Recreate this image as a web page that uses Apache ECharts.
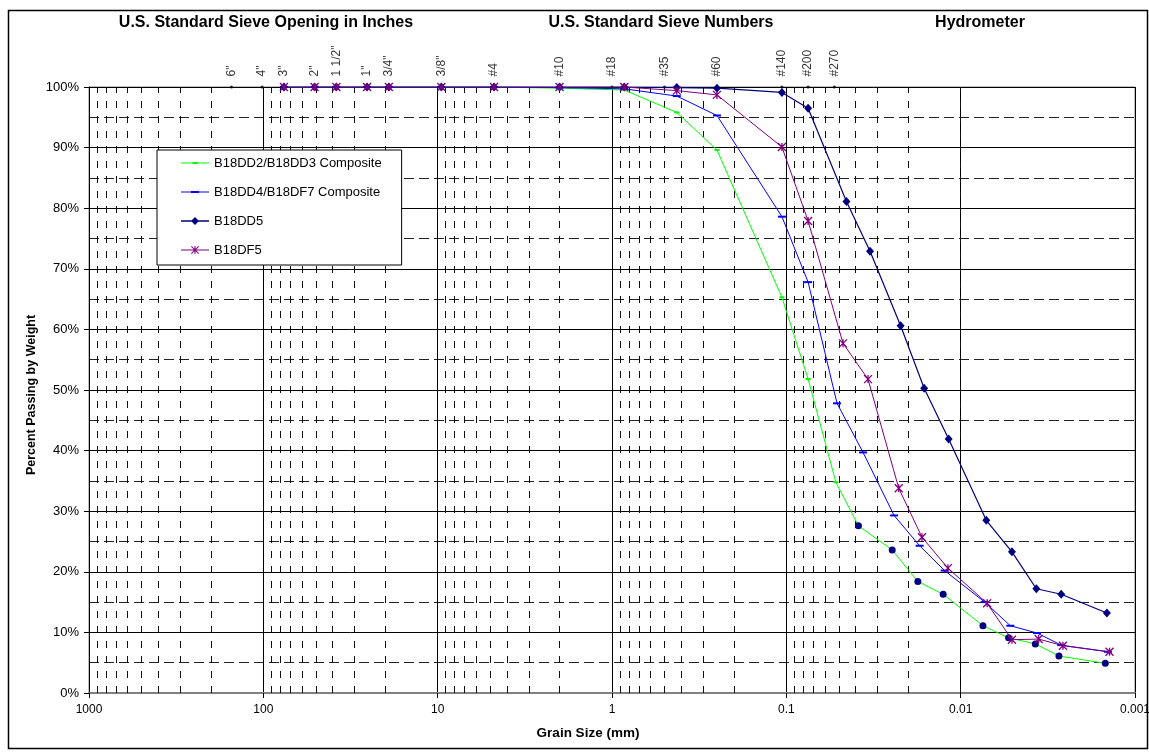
<!DOCTYPE html>
<html>
<head>
<meta charset="utf-8">
<script src="https://cdn.jsdelivr.net/npm/echarts@6/dist/echarts.min.js"></script>
<style>
html,body{margin:0;padding:0;background:#fff;}
#chart{width:1149px;height:754px;}
</style>
</head>
<body>
<div id="chart"></div>
<script>
// ---------------- DATA ----------------
const sieveLabels = ['6"', '4"', '3"', '2"', '1 1/2"', '1"', '3/4"', '3/8"', '#4', '#10', '#18', '#35', '#60', '#140', '#200', '#270'];
const sieveLabelSizes = [152.4, 101.6, 76.2, 50.8, 38.1, 25.4, 19.05, 9.525, 4.75, 2.0, 1.0, 0.5, 0.25, 0.106, 0.075, 0.053];

const sieveSizes = [76.2, 50.8, 38.1, 25.4, 19.05, 9.525, 4.75, 2.0, 0.85, 0.425, 0.25, 0.106, 0.075];

// B18DD2/B18DD3 Composite
const dd23Sieve = [100, 100, 100, 100, 100, 100, 100, 99.8, 99.5, 95.8, 89.6, 65.3, 51.8];
const dd23FineSizes = [0.052];
const dd23FineVals = [34.8];
const dd23HydroSizes = [0.0386, 0.0247, 0.0176, 0.0126, 0.00745, 0.00531, 0.00373, 0.00273, 0.00148];
const dd23HydroVals = [27.6, 23.6, 18.4, 16.3, 11.1, 9.1, 8.1, 6.1, 4.9];

// B18DD4/B18DF7 Composite
const dd4Sieve = [100, 100, 100, 100, 100, 100, 100, 99.9, 99.7, 98.5, 95.3, 78.6, 67.8];
const dd4HydroSizes = [0.0512, 0.0363, 0.0241, 0.0172, 0.01236, 0.00728, 0.00519, 0.00365, 0.00265, 0.00143];
const dd4HydroVals = [47.8, 39.7, 29.3, 24.3, 20.2, 15.0, 11.1, 9.9, 7.9, 6.8];

// B18DD5
const dd5Sieve = [100, 100, 100, 100, 100, 100, 100, 100, 100, 99.9, 99.8, 99.1, 96.5];
const dd5HydroSizes = [0.0452, 0.0331, 0.0221, 0.0162, 0.01172, 0.00713, 0.00508, 0.00368, 0.00265, 0.00145];
const dd5HydroVals = [81.1, 72.9, 60.6, 50.3, 41.9, 28.5, 23.3, 17.2, 16.3, 13.2];

// B18DF5
const df5Sieve = [100, 100, 100, 100, 100, 100, 100, 100, 100, 99.4, 98.7, 90.1, 77.9];
const df5HydroSizes = [0.0473, 0.034, 0.02266, 0.01667, 0.01183, 0.00705, 0.00508, 0.00357, 0.00259, 0.0014];
const df5HydroVals = [57.7, 51.8, 33.8, 25.7, 20.6, 14.8, 8.8, 8.9, 7.8, 6.8];

const seriesNames = ['B18DD2/B18DD3 Composite', 'B18DD4/B18DF7 Composite', 'B18DD5', 'B18DF5'];
const headerTitles = ['U.S. Standard Sieve Opening in Inches', 'U.S. Standard Sieve Numbers', 'Hydrometer'];
const xTitle = 'Grain Size (mm)';
const yTitle = 'Percent Passing by Weight';

// ---------------- BUILD ----------------
const FONT = 'Arial, "Liberation Sans", Helvetica, sans-serif';
function pairs(xs, ys) { return xs.map((x, i) => [x, ys[i]]); }

const minorLines = [];
for (let e = -3; e <= 2; e++) {
  for (let m = 2; m <= 9; m++) {
    minorLines.push({ xAxis: m * Math.pow(10, e) });
  }
}

// legend icons: line + marker, drawn in a 28x14 box
const BOX = 'M0,0M28,14';
const LINE = 'M0,6.5L28,6.5L28,7.5L0,7.5Z';
const legendIcons = [
  'path://' + BOX + LINE + 'M11.5,6L16.5,6L16.5,8L11.5,8Z',
  'path://' + BOX + LINE + 'M10,6L18,6L18,8L10,8Z',
  'path://' + BOX + 'M0,6.2L28,6.2L28,7.8L0,7.8Z' + 'M14,3L18,7L14,11L10,7Z',
  'path://' + BOX + LINE + 'M13.5,3L14.5,3L14.5,11L13.5,11Z' +
    'M10,3.7L10.7,3L18,10.3L17.3,11Z' + 'M17.3,3L18,3.7L10.7,11L10,10.3Z'
];

const greenData = pairs(sieveSizes, dd23Sieve)
  .concat(pairs(dd23FineSizes, dd23FineVals))
  .concat(pairs(dd23HydroSizes, dd23HydroVals).map(p => ({
    value: p, symbol: 'circle', symbolSize: 7,
    itemStyle: { color: '#000080', borderColor: '#000080', borderWidth: 0 }
  })));
const blueData = pairs(sieveSizes, dd4Sieve).concat(pairs(dd4HydroSizes, dd4HydroVals));
const navyData = pairs(sieveSizes, dd5Sieve).concat(pairs(dd5HydroSizes, dd5HydroVals));
const purpleData = pairs(sieveSizes, df5Sieve).concat(pairs(df5HydroSizes, df5HydroVals));

const chart = echarts.init(document.getElementById('chart'), null, { renderer: 'canvas' });

const option = {
  animation: false,
  backgroundColor: '#fff',
  textStyle: { fontFamily: FONT },
  grid: { left: 89, right: 14, top: 87, bottom: 61, show: true, borderColor: '#808080', borderWidth: 1, backgroundColor: 'transparent', outerBoundsMode: 'none', containLabel: false },
  legend: {
    orient: 'vertical',
    left: 157, top: 150, z: 20,
    padding: [6, 20, 8, 24],
    itemWidth: 28, itemHeight: 14, itemGap: 15,
    backgroundColor: '#fff',
    borderColor: '#000', borderWidth: 1,
    symbolKeepAspect: true,
    itemStyle: { borderWidth: 0 },
    textStyle: { fontFamily: FONT, fontSize: 13, color: '#000' },
    data: seriesNames.map((n, i) => ({ name: n, icon: legendIcons[i] }))
  },
  xAxis: {
    type: 'log', logBase: 10, min: 0.001, max: 1000, inverse: true, splitNumber: 6,
    axisLine: { show: true, lineStyle: { color: '#808080', width: 2 } },
    axisTick: { show: true, length: 5, lineStyle: { color: '#000' } },
    axisLabel: {
      fontSize: 12, color: '#000', margin: 11, fontFamily: FONT,
      formatter: function (v) {
        const e = Math.round(Math.log10(v));
        return e >= 0 ? String(Math.pow(10, e)) : Math.pow(10, e).toFixed(-e);
      }
    },
    splitLine: { show: true, lineStyle: { color: '#000', width: 1 } },
    minorTick: { show: false },
    minorSplitLine: { show: false }
  },
  yAxis: {
    type: 'value', min: 0, max: 100, interval: 10,
    axisLine: { show: true, lineStyle: { color: '#000', width: 1 } },
    axisTick: { show: true, length: 5, lineStyle: { color: '#000' } },
    axisLabel: { formatter: '{value}%', fontSize: 13, color: '#000', margin: 10, fontFamily: FONT },
    splitLine: { show: true, lineStyle: { color: '#000', width: 1 } },
    minorTick: { show: false, splitNumber: 2 },
    minorSplitLine: { show: true, lineStyle: { color: '#222', width: 1, type: [10, 5] } }
  },
  graphic: [
    { type: 'rect', silent: true, z: -10, shape: { x: 8.5, y: 10.5, width: 1139, height: 738 }, style: { fill: 'none', stroke: '#000', lineWidth: 1.5 } },
    { type: 'text', silent: true, style: { x: 266, y: 23, text: headerTitles[0], font: 'bold 16px ' + FONT, fill: '#000', textAlign: 'center', textVerticalAlign: 'middle' } },
    { type: 'text', silent: true, style: { x: 661, y: 23, text: headerTitles[1], font: 'bold 16px ' + FONT, fill: '#000', textAlign: 'center', textVerticalAlign: 'middle' } },
    { type: 'text', silent: true, style: { x: 980, y: 23, text: headerTitles[2], font: 'bold 16px ' + FONT, fill: '#000', textAlign: 'center', textVerticalAlign: 'middle' } },
    { type: 'text', silent: true, style: { x: 588, y: 733, text: xTitle, font: 'bold 13.5px ' + FONT, fill: '#000', textAlign: 'center', textVerticalAlign: 'middle' } },
    { type: 'text', silent: true, x: 32, y: 395, rotation: Math.PI / 2, style: { x: 0, y: 0, text: yTitle, font: 'bold 12.5px ' + FONT, fill: '#000', textAlign: 'center', textVerticalAlign: 'middle' } }
  ],
  series: [
    {
      name: 'sieves', type: 'scatter', z: 1,
      symbol: 'circle', symbolSize: 3,
      itemStyle: { color: '#000' },
      data: pairs(sieveLabelSizes, sieveLabelSizes.map(() => 100)).map((p, i) => ({ value: p, name: sieveLabels[i] })),
      label: {
        show: true, position: 'top', distance: 9, rotate: 90,
        align: 'left', verticalAlign: 'middle',
        formatter: function (p) { return p.name; },
        fontSize: 12, color: '#000', fontFamily: FONT
      },
      emphasis: { disabled: true },
      silent: true,
      markLine: {
        silent: true, symbol: ['none', 'none'], animation: false, z: 1,
        label: { show: false },
        emphasis: { disabled: true },
        lineStyle: { color: '#111', width: 1, type: [7, 8] },
        data: minorLines
      }
    },
    {
      name: seriesNames[0], type: 'line', z: 3,
      data: greenData,
      symbol: 'rect', symbolSize: [5, 2],
      itemStyle: { color: '#00FF00' },
      lineStyle: { color: '#00FF00', width: 1 }
    },
    {
      name: seriesNames[1], type: 'line', z: 4,
      data: blueData,
      symbol: 'rect', symbolSize: [8, 2],
      itemStyle: { color: '#0000FF' },
      lineStyle: { color: '#0000FF', width: 1 }
    },
    {
      name: seriesNames[2], type: 'line', z: 5,
      data: navyData,
      symbol: 'diamond', symbolSize: [8, 9],
      itemStyle: { color: '#000080' },
      lineStyle: { color: '#000080', width: 1.2 }
    },
    {
      name: seriesNames[3], type: 'line', z: 6,
      data: purpleData,
      symbol: 'path://M0,0L10,10M10,0L0,10M5,0L5,10',
      symbolSize: 8,
      itemStyle: { color: '#800080', borderColor: '#800080', borderWidth: 1.3 },
      lineStyle: { color: '#800080', width: 1 }
    }
  ]
};
chart.setOption(option);
</script>
</body>
</html>
